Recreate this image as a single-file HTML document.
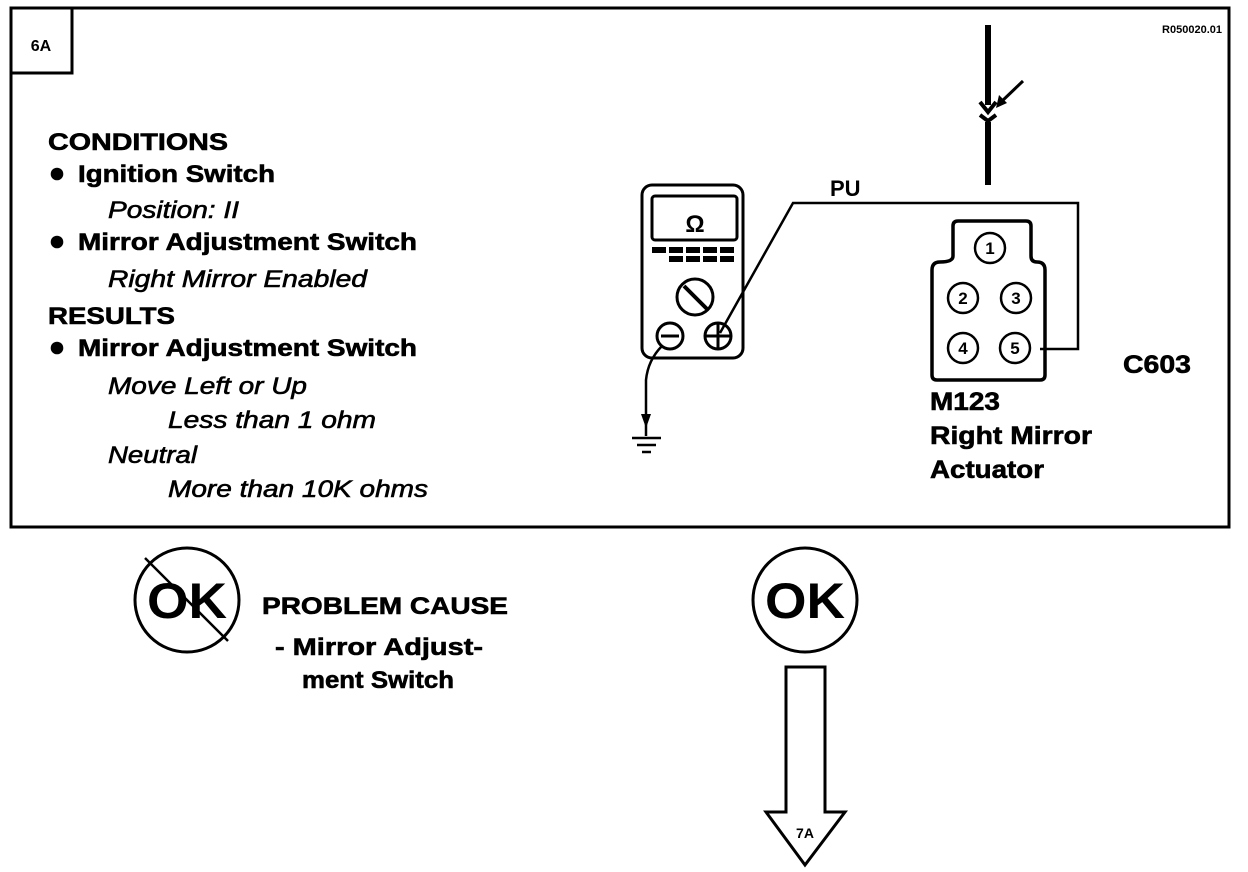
<!DOCTYPE html>
<html><head><meta charset="utf-8"><style>html,body{margin:0;padding:0;background:#fff}svg{display:block}</style></head>
<body>
<svg width="1248" height="872" viewBox="0 0 1248 872" xmlns="http://www.w3.org/2000/svg" font-family="Liberation Sans, Arial, sans-serif">
<rect x="0" y="0" width="1248" height="872" fill="#fff"/>
<rect x="11" y="8" width="1218" height="519" fill="none" stroke="#000" stroke-width="3"/>
<rect x="11" y="8" width="61" height="65" fill="none" stroke="#000" stroke-width="3"/>
<text x="41" y="51" font-size="16" font-weight="bold" text-anchor="middle">6A</text>
<text x="1222" y="33" font-size="11" font-weight="bold" text-anchor="end">R050020.01</text>

<g font-size="24" font-weight="bold" stroke="#000" stroke-width="0.6">
<text x="48" y="150" textLength="180" lengthAdjust="spacingAndGlyphs">CONDITIONS</text>
<circle cx="57" cy="174" r="6"/>
<text x="78" y="182" textLength="197" lengthAdjust="spacingAndGlyphs">Ignition Switch</text>
<circle cx="57" cy="242" r="6"/>
<text x="78" y="250" textLength="339" lengthAdjust="spacingAndGlyphs">Mirror Adjustment Switch</text>
<text x="48" y="324" textLength="127" lengthAdjust="spacingAndGlyphs">RESULTS</text>
<circle cx="57" cy="348" r="6"/>
<text x="78" y="356" textLength="339" lengthAdjust="spacingAndGlyphs">Mirror Adjustment Switch</text>
</g>
<g font-size="24" font-style="italic" stroke="#000" stroke-width="0.6">
<text x="108" y="218" textLength="131" lengthAdjust="spacingAndGlyphs">Position: II</text>
<text x="108" y="287" textLength="259" lengthAdjust="spacingAndGlyphs">Right Mirror Enabled</text>
<text x="108" y="394" textLength="199" lengthAdjust="spacingAndGlyphs">Move Left or Up</text>
<text x="168" y="428" textLength="208" lengthAdjust="spacingAndGlyphs">Less than 1 ohm</text>
<text x="108" y="463" textLength="89" lengthAdjust="spacingAndGlyphs">Neutral</text>
<text x="168" y="497" textLength="260" lengthAdjust="spacingAndGlyphs">More than 10K ohms</text>
</g>

<!-- vertical wire -->
<line x1="988" y1="25" x2="988" y2="105" stroke="#000" stroke-width="6"/>
<line x1="988" y1="122" x2="988" y2="185" stroke="#000" stroke-width="6"/>
<path d="M980 102 L988 112 L996 102" fill="none" stroke="#000" stroke-width="4"/>
<path d="M980 115 L988 121 L996 115" fill="none" stroke="#000" stroke-width="4"/>
<line x1="1023" y1="81" x2="1000" y2="103" stroke="#000" stroke-width="3"/>
<path d="M996 108 L999 95 L1007 103 Z"/>

<!-- meter -->
<rect x="642" y="185" width="101" height="173" rx="10" fill="none" stroke="#000" stroke-width="3"/>
<rect x="652" y="196" width="85" height="44" rx="3" fill="none" stroke="#000" stroke-width="3"/>
<text x="695" y="232" font-size="24" font-weight="bold" text-anchor="middle">Ω</text>
<g fill="#000">
<rect x="652" y="247" width="14" height="6"/><rect x="669" y="247" width="14" height="6"/><rect x="686" y="247" width="14" height="6"/><rect x="703" y="247" width="14" height="6"/><rect x="720" y="247" width="14" height="6"/>
<rect x="669" y="256" width="14" height="6"/><rect x="686" y="256" width="14" height="6"/><rect x="703" y="256" width="14" height="6"/><rect x="720" y="256" width="14" height="6"/>
</g>
<circle cx="695" cy="297" r="18" fill="none" stroke="#000" stroke-width="3"/>
<line x1="684" y1="286" x2="707" y2="309" stroke="#000" stroke-width="4"/>
<circle cx="670" cy="336" r="13" fill="none" stroke="#000" stroke-width="3"/>
<line x1="661" y1="336" x2="679" y2="336" stroke="#000" stroke-width="3"/>
<circle cx="718" cy="336" r="13" fill="none" stroke="#000" stroke-width="3"/>
<line x1="706" y1="336" x2="730" y2="336" stroke="#000" stroke-width="3"/>
<line x1="718" y1="324" x2="718" y2="348" stroke="#000" stroke-width="3"/>

<!-- PU wire -->
<polyline points="720,333 793,203 1078,203 1078,349 1040,349" fill="none" stroke="#000" stroke-width="2.5"/>
<text x="830" y="196" font-size="22" font-weight="bold">PU</text>

<!-- ground -->
<path d="M662 346 Q648 360 646 380 L646 436" fill="none" stroke="#000" stroke-width="2.5"/>
<path d="M641 414 L646 428 L651 414 Z"/>
<line x1="632" y1="438" x2="661" y2="438" stroke="#000" stroke-width="2.5"/>
<line x1="637" y1="445" x2="656" y2="445" stroke="#000" stroke-width="2.5"/>
<line x1="642" y1="452" x2="651" y2="452" stroke="#000" stroke-width="2.5"/>

<!-- connector -->
<path d="M958 221 L1026 221 Q1031 221 1031 226 L1031 256 Q1031 262 1037 262 Q1045 262 1045 270 L1045 375 Q1045 380 1040 380 L937 380 Q932 380 932 375 L932 270 Q932 262 940 262 Q953 262 953 256 L953 226 Q953 221 958 221 Z" fill="none" stroke="#000" stroke-width="3.5"/>
<g fill="none" stroke="#000" stroke-width="2.5">
<circle cx="990" cy="248" r="15"/><circle cx="963" cy="298" r="15"/><circle cx="1016" cy="298" r="15"/><circle cx="963" cy="348" r="15"/><circle cx="1015" cy="348" r="15"/>
</g>
<g font-size="17" font-weight="bold" text-anchor="middle">
<text x="990" y="254">1</text><text x="963" y="304">2</text><text x="1016" y="304">3</text><text x="963" y="354">4</text><text x="1015" y="354">5</text>
</g>
<g font-size="25" font-weight="bold" stroke="#000" stroke-width="0.6">
<text x="930" y="410" textLength="70" lengthAdjust="spacingAndGlyphs">M123</text>
<text x="930" y="444" textLength="162" lengthAdjust="spacingAndGlyphs">Right Mirror</text>
<text x="930" y="478" textLength="114" lengthAdjust="spacingAndGlyphs">Actuator</text>
<text x="1123" y="373" textLength="68" lengthAdjust="spacingAndGlyphs">C603</text>
</g>

<!-- OK circles -->
<circle cx="187" cy="600" r="52" fill="none" stroke="#000" stroke-width="3"/>
<text x="187" y="618" font-size="50" font-weight="bold" text-anchor="middle" textLength="80" lengthAdjust="spacingAndGlyphs">OK</text>
<line x1="145" y1="558" x2="228" y2="641" stroke="#000" stroke-width="2.5"/>
<circle cx="805" cy="600" r="52" fill="none" stroke="#000" stroke-width="3"/>
<text x="805" y="618" font-size="50" font-weight="bold" text-anchor="middle" textLength="80" lengthAdjust="spacingAndGlyphs">OK</text>

<g font-size="24" font-weight="bold" stroke="#000" stroke-width="0.6">
<text x="262" y="614" textLength="246" lengthAdjust="spacingAndGlyphs">PROBLEM CAUSE</text>
<text x="275" y="655" textLength="208" lengthAdjust="spacingAndGlyphs">-  Mirror Adjust-</text>
<text x="302" y="688" textLength="152" lengthAdjust="spacingAndGlyphs">ment Switch</text>
</g>

<!-- arrow to 7A -->
<path d="M786 667 L825 667 L825 812 L845 812 L805 865 L766 812 L786 812 Z" fill="none" stroke="#000" stroke-width="3"/>
<text x="805" y="838" font-size="14" font-weight="bold" text-anchor="middle">7A</text>
</svg>
</body></html>
